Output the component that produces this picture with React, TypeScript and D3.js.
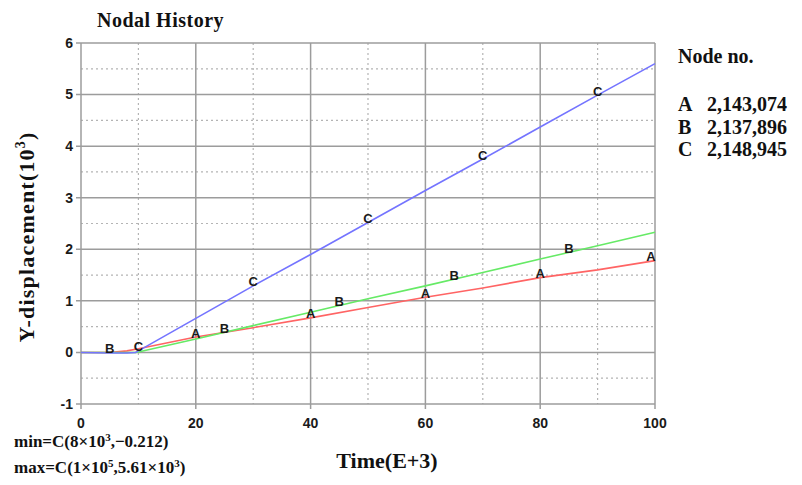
import React, { useEffect, useRef } from 'react';
import * as d3 from 'd3';

// time axis (E+3) and the three node histories
const time = [0, 5, 8, 9.5, 10, 20, 30, 40, 50, 60, 70, 80, 90, 100];
const seriesA = [0, 0, 0.03, 0.06, 0.07, 0.3, 0.48, 0.67, 0.87, 1.07, 1.25, 1.45, 1.6, 1.78];
const seriesB = [0, 0, 0, 0, 0.01, 0.26, 0.52, 0.78, 1.04, 1.29, 1.55, 1.81, 2.07, 2.33];
const seriesC = [0, -0.01, -0.01, 0, 0.03, 0.66, 1.29, 1.9, 2.52, 3.14, 3.75, 4.37, 4.99, 5.6];

const markA = [20, 40, 60, 80, 100];
const markB = [5, 25, 45, 65, 85];
const markC = [10, 30, 50, 70, 90];

const xTicks = [0, 20, 40, 60, 80, 100];
const xMinor = [10, 30, 50, 70, 90];
const yTicks = [-1, 0, 1, 2, 3, 4, 5, 6];
const yMinor = [-0.5, 0.5, 1.5, 2.5, 3.5, 4.5, 5.5];

const legendNodes = ['A', 'B', 'C'];
const legendIds = ['2,143,074', '2,137,896', '2,148,945'];

const App = () => {
    const ref = useRef<SVGSVGElement>(null);

    useEffect(() => {
        document.body.style.margin = '0';
        const svg = d3.select(ref.current);
        svg.selectAll('*').remove();

        const x = d3.scaleLinear().domain([0, 100]).range([81, 655]);
        const y = d3.scaleLinear().domain([-1, 6]).range([404, 43]);
        const serif = 'Liberation Serif, Times New Roman, serif';
        const sans = 'Liberation Sans, Arial, sans-serif';

        // grid
        const grid = svg.append('g');
        grid.selectAll('.vmin').data(xMinor).join('line')
            .attr('x1', d => x(d)).attr('x2', d => x(d)).attr('y1', y(6)).attr('y2', y(-1))
            .attr('stroke', '#b4b4b4').attr('stroke-width', 1.2).attr('stroke-dasharray', '2,3');
        grid.selectAll('.hmin').data(yMinor).join('line')
            .attr('x1', x(0)).attr('x2', x(100)).attr('y1', d => y(d)).attr('y2', d => y(d))
            .attr('stroke', '#b4b4b4').attr('stroke-width', 1.2).attr('stroke-dasharray', '2,3');
        grid.selectAll('.vmaj').data(xTicks).join('line')
            .attr('x1', d => x(d)).attr('x2', d => x(d)).attr('y1', y(6)).attr('y2', y(-1) + 5)
            .attr('stroke', '#9c9c9c').attr('stroke-width', 1.5);
        grid.selectAll('.hmaj').data(yTicks).join('line')
            .attr('x1', x(0) - 5).attr('x2', x(100)).attr('y1', d => y(d)).attr('y2', d => y(d))
            .attr('stroke', '#9c9c9c').attr('stroke-width', 1.5);

        // tick labels
        svg.append('g').selectAll('text').data(yTicks).join('text')
            .attr('x', 73).attr('y', d => y(d)).attr('dy', '0.35em')
            .attr('text-anchor', 'end').attr('font-family', sans).attr('font-weight', 'bold')
            .attr('font-size', 14).attr('fill', '#1a1a1a').text(d => d);
        svg.append('g').selectAll('text').data(xTicks).join('text')
            .attr('x', d => x(d)).attr('y', 428)
            .attr('text-anchor', 'middle').attr('font-family', sans).attr('font-weight', 'bold')
            .attr('font-size', 14).attr('fill', '#1a1a1a').text(d => d);

        // lines
        const series = [
            { vals: seriesA, color: '#ff6464', marks: markA, name: 'A' },
            { vals: seriesB, color: '#66ea66', marks: markB, name: 'B' },
            { vals: seriesC, color: '#7474ff', marks: markC, name: 'C' },
        ];
        const line = d3.line<number>().x((d, i) => x(time[i])).y(d => y(d));
        series.forEach(s => {
            svg.append('path').attr('d', line(s.vals)).attr('fill', 'none')
                .attr('stroke', s.color).attr('stroke-width', 1.6);
        });
        series.forEach(s => {
            const interp = (t: number) => {
                const j = d3.bisectRight(time, t) - 1;
                const k = Math.min(j + 1, time.length - 1);
                if (k === j) return s.vals[j];
                const f = (t - time[j]) / (time[k] - time[j]);
                return s.vals[j] + f * (s.vals[k] - s.vals[j]);
            };
            svg.append('g').selectAll('text').data(s.marks).join('text')
                .attr('x', d => x(d) - (d === 100 ? 4 : 0)).attr('y', d => y(interp(d)) - 4).attr('dy', '0.35em')
                .attr('text-anchor', 'middle').attr('font-family', sans).attr('font-weight', 'bold')
                .attr('font-size', 13).attr('fill', '#1a1a1a').text(s.name);
        });

        // titles
        svg.append('text').attr('x', 97).attr('y', 27).attr('font-family', serif)
            .attr('font-weight', 'bold').attr('font-size', 20).attr('letter-spacing', 0.5)
            .attr('fill', '#111').text('Nodal History');

        const yl = svg.append('text').attr('transform', 'translate(34,237) rotate(-90)')
            .attr('text-anchor', 'middle').attr('font-family', serif).attr('font-weight', 'bold')
            .attr('font-size', 22).attr('letter-spacing', 1.2).attr('fill', '#111');
        yl.append('tspan').text('Y-displacement(10');
        yl.append('tspan').attr('font-size', 14).attr('dy', -9).text('3');
        yl.append('tspan').attr('dy', 9).text(')');

        svg.append('text').attr('x', 387).attr('y', 468).attr('text-anchor', 'middle')
            .attr('font-family', serif).attr('font-weight', 'bold').attr('font-size', 22)
            .attr('fill', '#111').text('Time(E+3)');

        const mn = svg.append('text').attr('x', 14).attr('y', 447).attr('font-family', serif)
            .attr('font-weight', 'bold').attr('font-size', 17).attr('fill', '#111');
        mn.append('tspan').text('min=C(8×10');
        mn.append('tspan').attr('font-size', 11).attr('dy', -6).text('3');
        mn.append('tspan').attr('dy', 6).text(',−0.212)');

        const mx = svg.append('text').attr('x', 14).attr('y', 473).attr('font-family', serif)
            .attr('font-weight', 'bold').attr('font-size', 17).attr('fill', '#111');
        mx.append('tspan').text('max=C(1×10');
        mx.append('tspan').attr('font-size', 11).attr('dy', -6).text('5');
        mx.append('tspan').attr('dy', 6).text(',5.61×10');
        mx.append('tspan').attr('font-size', 11).attr('dy', -6).text('3');
        mx.append('tspan').attr('dy', 6).text(')');

        // legend
        svg.append('text').attr('x', 678).attr('y', 63).attr('font-family', serif)
            .attr('font-weight', 'bold').attr('font-size', 20).attr('fill', '#111').text('Node no.');
        const lg = svg.append('g').selectAll('g').data(legendNodes).join('g');
        lg.append('text').attr('x', 678).attr('y', (d, i) => 111 + i * 22.5)
            .attr('font-family', serif).attr('font-weight', 'bold').attr('font-size', 20)
            .attr('fill', '#111').text(d => d);
        lg.append('text').attr('x', 707).attr('y', (d, i) => 111 + i * 22.5)
            .attr('font-family', serif).attr('font-weight', 'bold').attr('font-size', 20)
            .attr('fill', '#111').text((d, i) => legendIds[i]);
    }, []);

    return <svg ref={ref} width={802} height={485} style={{ display: 'block', background: '#fff' }} />;
};

export default App;
